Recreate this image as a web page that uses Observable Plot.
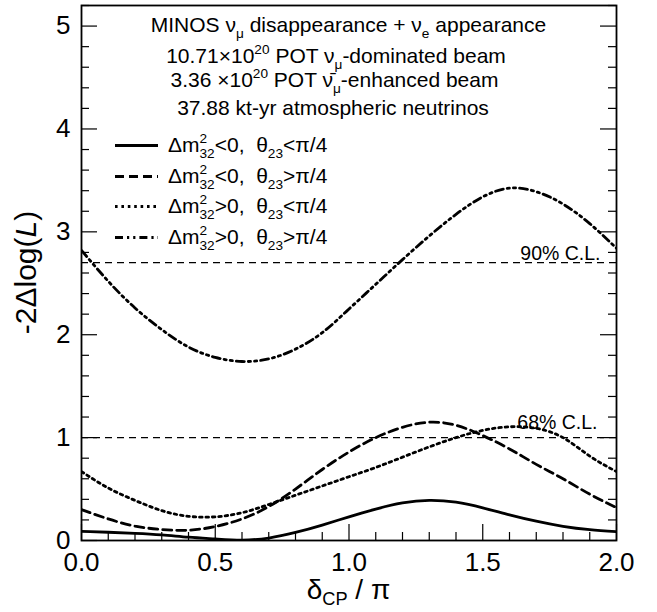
<!DOCTYPE html>
<html>
<head>
<meta charset="utf-8">
<script src="https://cdn.jsdelivr.net/npm/d3@7"></script>
<script src="https://cdn.jsdelivr.net/npm/@observablehq/plot@0.6"></script>
<style>
  html, body { margin: 0; padding: 0; background: #fff; }
  svg { display: block; }
</style>
</head>
<body>
<div id="chart"></div>
<script>
// ---------------- data ----------------
const deltaCP = [0.0, 0.1, 0.2, 0.3, 0.4, 0.5, 0.6, 0.7, 0.8, 0.9, 1.0,
                 1.1, 1.2, 1.3, 1.4, 1.5, 1.6, 1.7, 1.8, 1.9, 2.0];
// Δm²32<0, θ23<π/4 (solid)
const ihLower = [0.088, 0.080, 0.070, 0.055, 0.032, 0.015, 0.004, 0.024, 0.078, 0.150, 0.230,
                 0.305, 0.365, 0.390, 0.372, 0.318, 0.250, 0.188, 0.138, 0.105, 0.085];
// Δm²32<0, θ23>π/4 (dashed)
const ihUpper = [0.300, 0.210, 0.140, 0.107, 0.100, 0.136, 0.210, 0.330, 0.500, 0.690, 0.860,
                 1.000, 1.100, 1.150, 1.120, 1.020, 0.890, 0.740, 0.600, 0.450, 0.320];
// Δm²32>0, θ23<π/4 (dotted)
const nhLower = [0.670, 0.510, 0.390, 0.290, 0.235, 0.230, 0.270, 0.350, 0.440, 0.530, 0.620,
                 0.710, 0.810, 0.910, 1.000, 1.070, 1.105, 1.090, 1.000, 0.820, 0.670];
// Δm²32>0, θ23>π/4 (dash-dot-dot)
const nhUpper = [2.820, 2.520, 2.260, 2.050, 1.880, 1.780, 1.740, 1.765, 1.860, 2.020, 2.250,
                 2.490, 2.730, 2.960, 3.170, 3.340, 3.425, 3.390, 3.270, 3.080, 2.840];

const clLevels = [2.7, 1.0];
const clLabels = ["90% C.L.", "68% C.L."];

const yMajor = [0, 1, 2, 3, 4, 5];
const yMinor = [0.2, 0.4, 0.6, 0.8, 1.2, 1.4, 1.6, 1.8, 2.2, 2.4, 2.6, 2.8,
                3.2, 3.4, 3.6, 3.8, 4.2, 4.4, 4.6, 4.8, 5.2];
const xMajor = [0, 0.5, 1.0, 1.5, 2.0];
const xMinor = [0.1, 0.2, 0.3, 0.4, 0.6, 0.7, 0.8, 0.9, 1.1, 1.2, 1.3, 1.4,
                1.6, 1.7, 1.8, 1.9];

const headerLines = [
  [{t: "MINOS ν"}, {t: "μ", sub: true}, {t: " disappearance + ν"}, {t: "e", sub: true}, {t: " appearance"}],
  [{t: "10.71×10"}, {t: "20", sup: true}, {t: " POT ν"}, {t: "μ", sub: true}, {t: "-dominated beam"}],
  [{t: "3.36 ×10"}, {t: "20", sup: true}, {t: " POT ν\u0304"}, {t: "μ", sub: true}, {t: "-enhanced beam"}],
  [{t: "37.88 kt-yr atmospheric neutrinos"}]
];

const legendEntries = [
  {sign: "<0", oct: "<π/4"},
  {sign: "<0", oct: ">π/4"},
  {sign: ">0", oct: "<π/4"},
  {sign: ">0", oct: ">π/4"}
];

// ---------------- layout ----------------
const W = 657, H = 612;
const mL = 81, mR = 41, mT = 5, mB = 72;
const fw = W - mL - mR, fh = H - mT - mB;
const font = "'Liberation Sans', Arial, Helvetica, sans-serif";

const series = [
  {values: ihLower, dash: null},
  {values: ihUpper, dash: "9,5"},
  {values: nhLower, dash: "2.6,3.8"},
  {values: nhUpper, dash: "8,4,2.2,4,2.2,4"}
];
const curveW = 2.8;

const lineMarks = series.map(s =>
  Plot.line(deltaCP.map((x, i) => ({x, y: s.values[i]})), {
    x: "x", y: "y", curve: "natural", stroke: "black",
    strokeWidth: curveW, strokeDasharray: s.dash, clip: true
  })
);

const chart = Plot.plot({
  width: W, height: H,
  marginLeft: mL, marginRight: mR, marginTop: mT, marginBottom: mB,
  x: {domain: [0, 2]},
  y: {domain: [0, 5.2]},
  style: {fontFamily: font, fontSize: "26px", color: "black", background: "white"},
  marks: [
    Plot.ruleY(clLevels, {y: d => d, stroke: "black", strokeWidth: 1.2, strokeDasharray: "7,5"}),
    ...lineMarks,
    Plot.text([clLevels[0]], {x: () => 2, y: d => d, text: () => clLabels[0], textAnchor: "end",
      lineAnchor: "bottom", dx: -16, dy: -3, fontSize: 19.5, fill: "black"}),
    Plot.text([clLevels[1]], {x: () => 2, y: d => d, text: () => clLabels[1], textAnchor: "end",
      lineAnchor: "bottom", dx: -19, dy: -9, fontSize: 19.5, fill: "black"}),
    // inward ticks
    Plot.tickY(yMajor, {y: d => d, insetRight: fw - 16, stroke: "black", strokeWidth: 1.2}),
    Plot.tickY(yMinor, {y: d => d, insetRight: fw - 8, stroke: "black", strokeWidth: 1.2}),
    Plot.tickY(yMajor, {y: d => d, insetLeft: fw - 16, stroke: "black", strokeWidth: 1.2}),
    Plot.tickY(yMinor, {y: d => d, insetLeft: fw - 8, stroke: "black", strokeWidth: 1.2}),
    Plot.tickX(xMajor, {x: d => d, insetTop: fh - 16, stroke: "black", strokeWidth: 1.2}),
    Plot.tickX(xMinor, {x: d => d, insetTop: fh - 8, stroke: "black", strokeWidth: 1.2}),
    Plot.axisY(yMajor, {tickSize: 0, tickPadding: 11, label: null, fontSize: 26, tickFormat: d3.format("d")}),
    Plot.axisX(xMajor, {tickSize: 0, tickPadding: 12, label: null, fontSize: 26, tickFormat: d3.format(".1f")}),
    Plot.frame({stroke: "black", strokeWidth: 1.8})
  ]
});

document.getElementById("chart").appendChild(chart);

// ---------------- rich text annotations ----------------
const svg = d3.select(chart);

function rich(parent, x, y, parts, fs, anchor, subShift) {
  const t = parent.append("text")
    .attr("x", x).attr("y", y)
    .attr("font-family", font).attr("font-size", fs)
    .attr("text-anchor", anchor || "start")
    .attr("fill", "black")
    .style("white-space", "pre");
  let cur = 0;
  for (const p of parts) {
    let target = 0, size = fs;
    if (p.sup) { target = -0.42 * fs; size = 0.65 * fs; }
    if (p.sub) { target = (subShift || 0.30) * fs; size = 0.65 * fs; }
    const ts = t.append("tspan").text(p.t).attr("font-size", size).attr("dy", target - cur);
    if (p.dx) ts.attr("dx", p.dx);
    if (p.italic) ts.attr("font-style", "italic");
    cur = target;
  }
  return t;
}

const fsHead = 21;
const headerPos = [[348.5, 32], [336, 63], [334.5, 87], [333, 115]];
headerLines.forEach((parts, i) => rich(svg, headerPos[i][0], headerPos[i][1], parts, fsHead, "middle"));

const fsLeg = 21;
const legBase = [152, 183, 213, 244];
legendEntries.forEach((e, i) => {
  const y = legBase[i];
  svg.append("line").attr("x1", 115).attr("x2", 158).attr("y1", y - 6.5).attr("y2", y - 6.5)
    .attr("stroke", "black").attr("stroke-width", curveW)
    .attr("stroke-dasharray", series[i].dash);
  rich(svg, 168, y, [
    {t: "Δm"}, {t: "2", sup: true}, {t: "32", sub: true, dx: -0.556 * 0.65 * fsLeg},
    {t: e.sign + ",\u00a0\u00a0θ"}, {t: "23", sub: true}, {t: e.oct}
  ], fsLeg, "start");
});

// axis titles
const fsTitle = 30;
const yt = svg.append("g").attr("transform", `translate(36,${mT + fh / 2}) rotate(-90)`);
rich(yt, 0, 0, [{t: "-2Δlog("}, {t: "L", italic: true}, {t: ")"}], fsTitle, "middle");
rich(svg, mL + fw / 2, 599, [{t: "δ"}, {t: "CP", sub: true}, {t: " / π"}], 28, "middle", 0.2);
</script>
</body>
</html>
